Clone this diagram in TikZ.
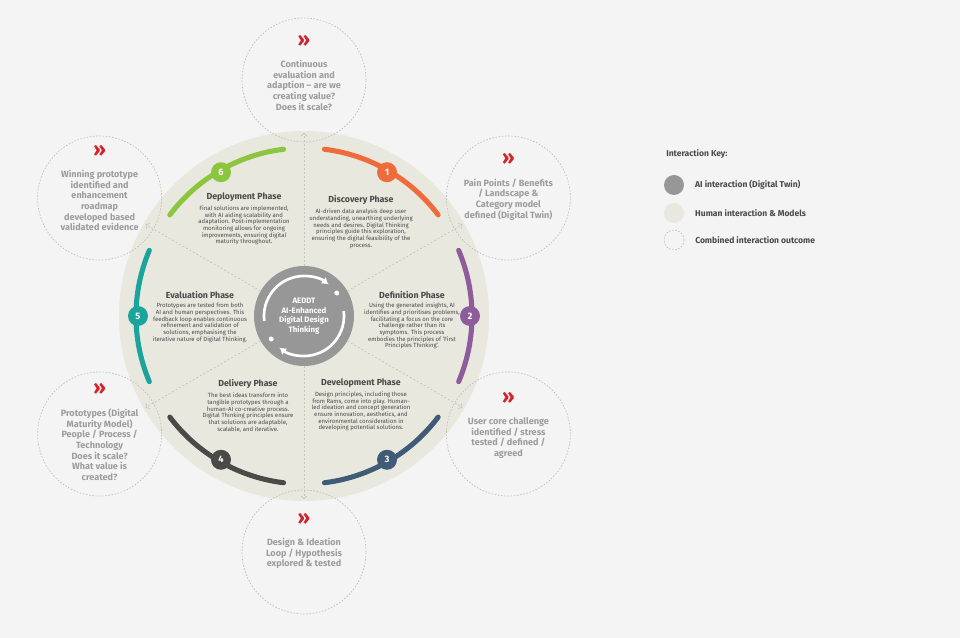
\documentclass[tikz,border=0pt]{standalone}
\usepackage{fontspec}
\setmainfont{Fira Sans}
\usepackage{tikz}
\usetikzlibrary{arrows.meta, calc, positioning}

\definecolor{bgpaper}{HTML}{F4F4F4}
\definecolor{humanfill}{HTML}{E8E8DF}
\definecolor{aigray}{HTML}{979797}
\definecolor{ringline}{HTML}{C4C4BC}
\definecolor{outline}{HTML}{BDBDBD}
\definecolor{outtextc}{HTML}{9C9C9C}
\definecolor{bodytext}{HTML}{4A4A4A}
\definecolor{chevred}{HTML}{D2232A}
\definecolor{discover}{HTML}{EE6B3C}
\definecolor{define}{HTML}{8E5B9B}
\definecolor{develop}{HTML}{3F5B76}
\definecolor{deliver}{HTML}{4A4A48}
\definecolor{evaluate}{HTML}{1BA49C}
\definecolor{deploy}{HTML}{8CC63F}

\tikzset{
	phasearc/.style={line width=3.8pt, line cap=round},
	badge/.style={circle, minimum size=15pt, inner sep=0pt, text=white, font=\fontsize{7}{8}\selectfont\bfseries},
	phasetitle/.style={inner sep=0pt, text=bodytext, font=\fontsize{6.6}{7.5}\selectfont\bfseries},
	phasebody/.style={inner sep=0pt, align=center, text=bodytext, font=\fontsize{4.5}{5}\selectfont},
	outcome/.style={circle, draw=outline, dash pattern=on 1.2pt off 1.2pt, line width=0.5pt, minimum size=93pt, inner sep=0pt},
	outtext/.style={inner sep=0pt, align=center, text=outtextc, font=\fontsize{6.8}{8}\selectfont\bfseries},
	chev/.style={inner sep=0pt, text=chevred, font=\fontsize{15}{15}\selectfont\bfseries},
	spoke/.style={ringline, dash pattern=on 1.5pt off 1.5pt, line width=0.5pt, -{Straight Barb[length=2pt,width=4.5pt]}},
	spin/.style={white, line width=2pt, -{Latex[length=5pt,width=6pt]}},
	coretext/.style={inner sep=0pt, align=center, text=white, font=\fontsize{5.9}{7.1}\selectfont\bfseries},
	keydot/.style={circle, minimum size=15pt, inner sep=0pt},
	keytext/.style={inner sep=0pt, text=bodytext, font=\fontsize{6.4}{7.5}\selectfont\bfseries},
}

\begin{document}
\begin{tikzpicture}[x=0.75pt, y=0.75pt]
	% Canvas
	\fill[bgpaper] (-304,-322) rectangle (656,316);
	\useasboundingbox (-304,-322) rectangle (656,316);

	% Human interaction ring
	\fill[humanfill] (0,0) circle (185);

	% AI core
	\node[circle, fill=aigray, minimum size=75pt, inner sep=0pt] (core) at (0,0) {};

	% Spokes to the outcomes
	\foreach \ang [count=\i] in {90, 30, -30, -90, -150, 150} {
		\coordinate (rim\i) at (\ang:183);
		\draw[spoke] (core.\ang) -- (rim\i);
	}

	% Phase arcs and badges
	\foreach \mid/\col/\num in {60/discover/1, 0/define/2, -60/develop/3, -120/deliver/4, 180/evaluate/5, 120/deploy/6} {
		\draw[phasearc, \col] (\mid-23:168) arc (\mid-23:\mid+23:168);
		\node[badge, fill=\col] (b\num) at (\mid:166) {\num};
	}

	% Circular arrows in the core
	\draw[spin] (187:40) arc (187:52:40);
	\draw[spin] (7:40) arc (7:-128:40);
	\fill[white] (35:40) circle (2.5) (215:40) circle (2.5);
	\node[coretext] (coretxt) at (core) {AEDDT\\AI-Enhanced\\Digital Design\\Thinking};

	% Phase texts
	\node[phasetitle] (h1) at (57,116) {Discovery Phase};
	\node[phasebody, below=3pt of h1] (p1) {AI-driven data analysis deep user\\understanding, unearthing underlying\\needs and desires. Digital Thinking\\principles guide this exploration,\\ensuring the digital feasibility of the\\process.};

	\node[phasetitle] (h2) at (108,21) {Definition Phase};
	\node[phasebody, below=3pt of h2] (p2) {Using the generated insights, AI\\identifies and prioritises problems,\\facilitating a focus on the core\\challenge rather than its\\symptoms. This process\\embodies the principles of `First\\Principles Thinking'.};

	\node[phasetitle] (h3) at (57,-67) {Development Phase};
	\node[phasebody, below=3pt of h3] (p3) {Design principles, including those\\from Rams, come into play. Human-\\led ideation and concept generation\\ensure innovation, aesthetics, and\\environmental consideration in\\developing potential solutions.};

	\node[phasetitle] (h4) at (-56,-68) {Delivery Phase};
	\node[phasebody, below=3pt of h4] (p4) {The best ideas transform into\\tangible prototypes through a\\human-AI co-creative process.\\Digital Thinking principles ensure\\that solutions are adaptable,\\scalable, and iterative.};

	\node[phasetitle] (h5) at (-104,21) {Evaluation Phase};
	\node[phasebody, below=3pt of h5] (p5) {Prototypes are tested from both\\AI and human perspectives. This\\feedback loop enables continuous\\refinement and validation of\\solutions, emphasising the\\iterative nature of Digital Thinking.};

	\node[phasetitle] (h6) at (-60,119) {Deployment Phase};
	\node[phasebody, below=3pt of h6] (p6) {Final solutions are implemented,\\with AI aiding scalability and\\adaptation. Post-implementation\\monitoring allows for ongoing\\improvements, ensuring digital\\maturity throughout.};

	% Combined interaction outcomes
	\foreach \ang [count=\i] in {90, 30, -30, -90, -150, 150}
		\node[outcome] (o\i) at (\ang:236) {};

	\node[outtext, yshift=-4pt] (t1) at (o1) {Continuous\\evaluation and\\adaption – are we\\creating value?\\Does it scale?};
	\node[outtext, yshift=-1pt] (t2) at (o2) {Pain Points / Benefits\\/ Landscape \&\\Category model\\defined (Digital Twin)};
	\node[outtext, yshift=-3pt] (t3) at (o3) {User core challenge\\identified / stress\\tested / defined /\\agreed};
	\node[outtext, yshift=-1pt] (t4) at (o4) {Design \& Ideation\\Loop / Hypothesis\\explored \& tested};
	\node[outtext, yshift=-8pt] (t5) at (o5) {Prototypes (Digital\\Maturity Model)\\People / Process /\\Technology\\Does it scale?\\What value is\\created?};
	\node[outtext, yshift=-2pt] (t6) at (o6) {Winning prototype\\identified and\\enhancement\\roadmap\\developed based\\validated evidence};
	\foreach \i in {1,...,6}
		\node[chev, above=10pt of t\i] (c\i) {»};

	% Interaction key
	\node[keytext, anchor=west] (keyhead) at (362,162) {Interaction Key:};
	\node[keydot, fill=aigray] (k1) at (370,131) {};
	\node[keydot, fill=humanfill] (k2) at (370,103) {};
	\node[keydot, draw=outline, dash pattern=on 1.2pt off 1.2pt, line width=0.5pt] (k3) at (370,76) {};
	\node[keytext, right=8pt of k1] (l1) {AI interaction (Digital Twin)};
	\node[keytext, right=8pt of k2] (l2) {Human interaction \& Models};
	\node[keytext, right=8pt of k3] (l3) {Combined interaction outcome};
\end{tikzpicture}
\end{document}
